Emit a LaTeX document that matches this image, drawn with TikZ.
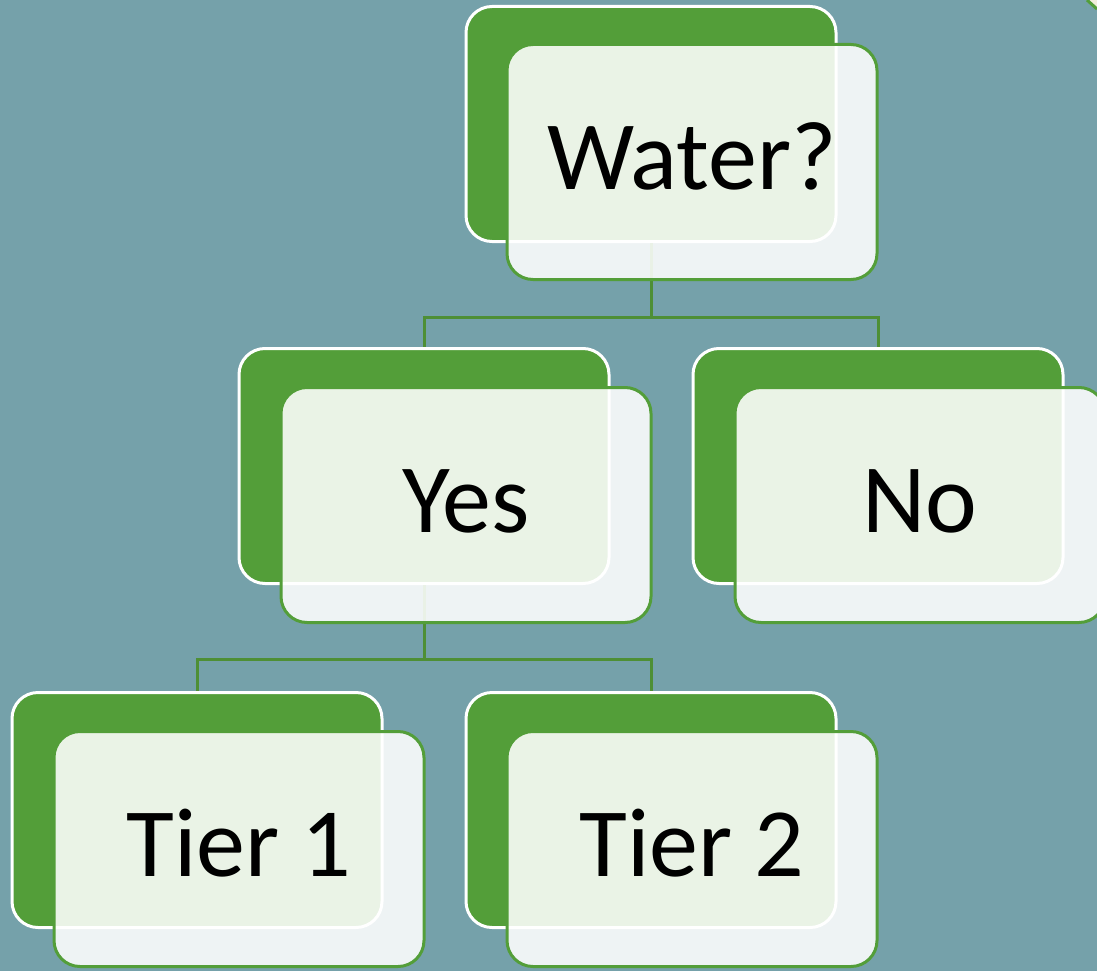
\documentclass[tikz,border=0pt]{standalone}
\usepackage{fontspec}
\setmainfont{Carlito}
\definecolor{slate}{HTML}{75A1AA}
\definecolor{leaf}{HTML}{539E39}
\definecolor{stem}{HTML}{4E8F35}
\definecolor{cream}{HTML}{F2EEDC}
\tikzset{
  back/.style={rounded corners=26pt,draw=white,fill=leaf,line width=3pt,
    minimum width=370pt,minimum height=235pt},
  front/.style={rounded corners=26pt,draw=leaf,fill=white,fill opacity=.88,
    text opacity=1,line width=3pt,minimum width=370pt,minimum height=235pt,
    text height=62pt,text depth=7pt,font=\fontsize{98}{100}\selectfont},
  fork/.style={draw=stem,line width=3pt,to path={-- ++(0,74) -| (\tikztotarget)}}
}
\begin{document}
\begin{tikzpicture}[x=1pt,y=-1pt]

      \clip (0,0) rectangle (1097,971);
      \fill[slate] (0,0) rectangle (1097,971);
      \fill[cream] (1088,0) -- (1097,0) -- (1097,8) -- cycle;
      \draw[leaf,line width=3pt] (1087,0) -- (1097,9);

      \begin{scope}[every node/.style={back}]
        \node (waterbk) at (651,124) {};
        \node (yesbk)   at (424,466) {};
        \node (nobk)    at (878,466) {};
        \node (tier1bk) at (197,810) {};
        \node (tier2bk) at (651,810) {};
      \end{scope}

      \path (waterbk.south) edge[fork] (yesbk.north);
      \path (waterbk.south) edge[fork] (nobk.north);
      \path (yesbk.south)   edge[fork] (tier1bk.north);
      \path (yesbk.south)   edge[fork] (tier2bk.north);

      \begin{scope}[every node/.style={front}]
        \node (water) at (692,162) {Water?};
        \node (yes)   at (466,505) {Yes};
        \node (no)    at (920,505) {No};
        \node (tier1) at (239,849) {Tier 1};
        \node (tier2) at (692,849) {Tier 2};
      \end{scope}

    \end{tikzpicture}
\end{document}
